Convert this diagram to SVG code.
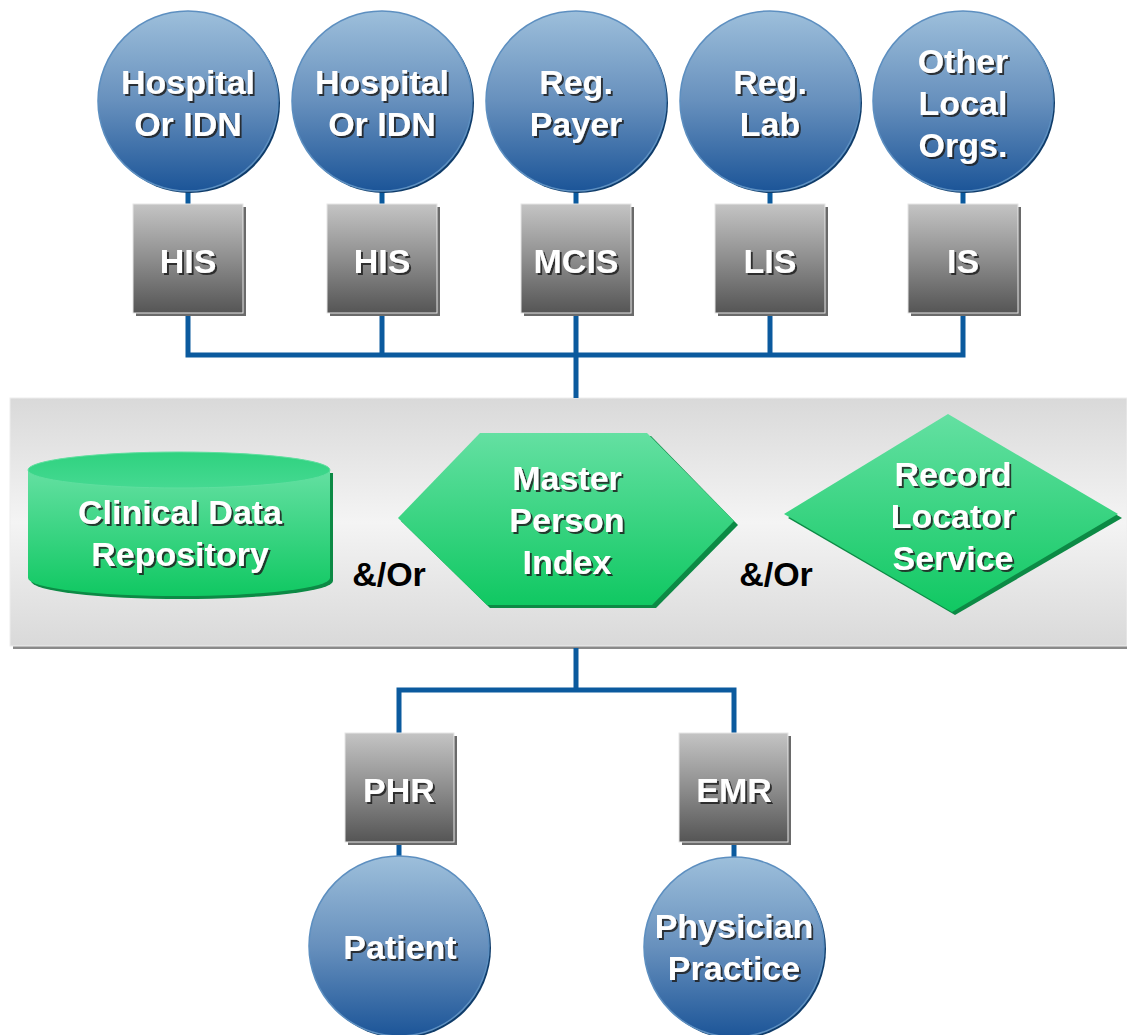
<svg xmlns="http://www.w3.org/2000/svg" width="1127" height="1035" viewBox="0 0 1127 1035">
<defs>
<linearGradient id="gBlue" x1="0" y1="0" x2="0" y2="1">
<stop offset="0" stop-color="#9dbfdb"/><stop offset="0.5" stop-color="#6790bd"/><stop offset="1" stop-color="#1c5598"/>
</linearGradient>
<linearGradient id="gGray" x1="0" y1="0" x2="0" y2="1">
<stop offset="0" stop-color="#c4c4c4"/><stop offset="0.5" stop-color="#8e8e8e"/><stop offset="1" stop-color="#555555"/>
</linearGradient>
<linearGradient id="gPanel" x1="0" y1="0" x2="0" y2="1">
<stop offset="0" stop-color="#d9d9d9"/><stop offset="0.5" stop-color="#f4f4f4"/><stop offset="1" stop-color="#d9d9d9"/>
</linearGradient>
<linearGradient id="gGreen" x1="0" y1="0" x2="0" y2="1">
<stop offset="0" stop-color="#64e0a2"/><stop offset="1" stop-color="#10c862"/>
</linearGradient>
<linearGradient id="gGreenTop" x1="0" y1="0" x2="0" y2="1">
<stop offset="0" stop-color="#2fd27f"/><stop offset="1" stop-color="#45d991"/>
</linearGradient>
<filter id="ts" x="-10%" y="-20%" width="130%" height="150%">
<feDropShadow dx="2" dy="2" stdDeviation="0.6" flood-color="#1a1a1a" flood-opacity="0.85"/>
</filter>
<style>
.lbl{font-family:"Liberation Sans",Arial,sans-serif;font-weight:bold;font-size:34px;fill:#ffffff;text-anchor:middle;filter:url(#ts)}
.andor{font-family:"Liberation Sans",Arial,sans-serif;font-weight:bold;font-size:34px;fill:#000000;text-anchor:middle}
.circ{fill:url(#gBlue);stroke:#5d8fc0;stroke-width:1.5}
.circsh{fill:#0f3c6a}
.box{fill:url(#gGray);stroke:#e6e6e6;stroke-width:1}
.boxsh{fill:#6a6a6a}
.conn{fill:none;stroke:#0b5a9e;stroke-width:5}
.gsh{fill:#0c8a45}
</style>
</defs>

<g id="panel">
<rect x="13" y="401" width="1114" height="248" fill="#8a8a8a"/>
<rect x="10" y="398" width="1117" height="248" fill="url(#gPanel)" stroke="#eeeeee" stroke-width="1"/>
</g>

<g id="connectors">
<path class="conn" d="M188,190 V206 M382,190 V206 M576,190 V206 M770,190 V206 M963,190 V206"/>
<path class="conn" d="M188,313 V355 H963 V313 M382,313 V355 M576,313 V355 M770,313 V355 M576,355 V398"/>
<path class="conn" d="M576,648 V690 M399,735 V690 H734 V735"/>
<path class="conn" d="M399,842 V858 M734,842 V858"/>
</g>

<g id="n-hosp1">
<circle class="circsh" cx="190" cy="103" r="90"/>
<circle class="circ" cx="188" cy="101" r="90"/>
<text class="lbl" x="188" y="94">Hospital</text>
<text class="lbl" x="188" y="136">Or IDN</text>
</g>
<g id="n-hosp2">
<circle class="circsh" cx="384" cy="103" r="90"/>
<circle class="circ" cx="382" cy="101" r="90"/>
<text class="lbl" x="382" y="94">Hospital</text>
<text class="lbl" x="382" y="136">Or IDN</text>
</g>
<g id="n-payer">
<circle class="circsh" cx="578" cy="103" r="90"/>
<circle class="circ" cx="576" cy="101" r="90"/>
<text class="lbl" x="576" y="94">Reg.</text>
<text class="lbl" x="576" y="136">Payer</text>
</g>
<g id="n-lab">
<circle class="circsh" cx="772" cy="103" r="90"/>
<circle class="circ" cx="770" cy="101" r="90"/>
<text class="lbl" x="770" y="94">Reg.</text>
<text class="lbl" x="770" y="136">Lab</text>
</g>
<g id="n-other">
<circle class="circsh" cx="965" cy="103" r="90"/>
<circle class="circ" cx="963" cy="101" r="90"/>
<text class="lbl" x="963" y="73">Other</text>
<text class="lbl" x="963" y="115">Local</text>
<text class="lbl" x="963" y="157">Orgs.</text>
</g>

<g id="b-his1">
<rect class="boxsh" x="136" y="207" width="110" height="109"/>
<rect class="box" x="133" y="204" width="110" height="109"/>
<text class="lbl" x="188" y="273">HIS</text>
</g>
<g id="b-his2">
<rect class="boxsh" x="330" y="207" width="110" height="109"/>
<rect class="box" x="327" y="204" width="110" height="109"/>
<text class="lbl" x="382" y="273">HIS</text>
</g>
<g id="b-mcis">
<rect class="boxsh" x="524" y="207" width="110" height="109"/>
<rect class="box" x="521" y="204" width="110" height="109"/>
<text class="lbl" x="576" y="273">MCIS</text>
</g>
<g id="b-lis">
<rect class="boxsh" x="718" y="207" width="110" height="109"/>
<rect class="box" x="715" y="204" width="110" height="109"/>
<text class="lbl" x="770" y="273">LIS</text>
</g>
<g id="b-is">
<rect class="boxsh" x="911" y="207" width="110" height="109"/>
<rect class="box" x="908" y="204" width="110" height="109"/>
<text class="lbl" x="963" y="273">IS</text>
</g>

<g id="n-cdr">
<path class="gsh" d="M31,473 V581 A151,18 0 0 0 333,581 V473 Z"/>
<path fill="url(#gGreen)" d="M28,470 V578 A151,18 0 0 0 330,578 V470 Z"/>
<ellipse cx="179" cy="470" rx="151" ry="18" fill="url(#gGreenTop)" stroke="#5fdf9f" stroke-width="1"/>
<text class="lbl" x="180" y="524">Clinical Data</text>
<text class="lbl" x="180" y="566">Repository</text>
</g>

<text class="andor" x="389" y="586">&amp;/Or</text>

<g id="n-mpi">
<polygon class="gsh" points="401,521 483,436 651,436 738,525 656,608 490,608"/>
<polygon fill="url(#gGreen)" points="398,518 480,433 647,433 734,521 652,605 487,605"/>
<text class="lbl" x="567" y="490">Master</text>
<text class="lbl" x="567" y="532">Person</text>
<text class="lbl" x="567" y="574">Index</text>
</g>

<text class="andor" x="776" y="586">&amp;/Or</text>

<g id="n-rls">
<polygon class="gsh" points="788,518 951,418 1122,518 955,615"/>
<polygon fill="url(#gGreen)" points="784,514 948,414 1118,514 952,612"/>
<text class="lbl" x="953" y="486">Record</text>
<text class="lbl" x="953" y="528">Locator</text>
<text class="lbl" x="953" y="570">Service</text>
</g>

<g id="b-phr">
<rect class="boxsh" x="348" y="736" width="109" height="109"/>
<rect class="box" x="345" y="733" width="109" height="109"/>
<text class="lbl" x="399" y="802">PHR</text>
</g>
<g id="b-emr">
<rect class="boxsh" x="682" y="736" width="109" height="109"/>
<rect class="box" x="679" y="733" width="109" height="109"/>
<text class="lbl" x="734" y="802">EMR</text>
</g>

<g id="n-patient">
<circle class="circsh" cx="401" cy="948" r="90"/>
<circle class="circ" cx="399" cy="946" r="90"/>
<text class="lbl" x="400" y="959">Patient</text>
</g>
<g id="n-physician">
<circle class="circsh" cx="736" cy="949" r="90"/>
<circle class="circ" cx="734" cy="947" r="90"/>
<text class="lbl" x="734" y="938">Physician</text>
<text class="lbl" x="734" y="980">Practice</text>
</g>
</svg>
